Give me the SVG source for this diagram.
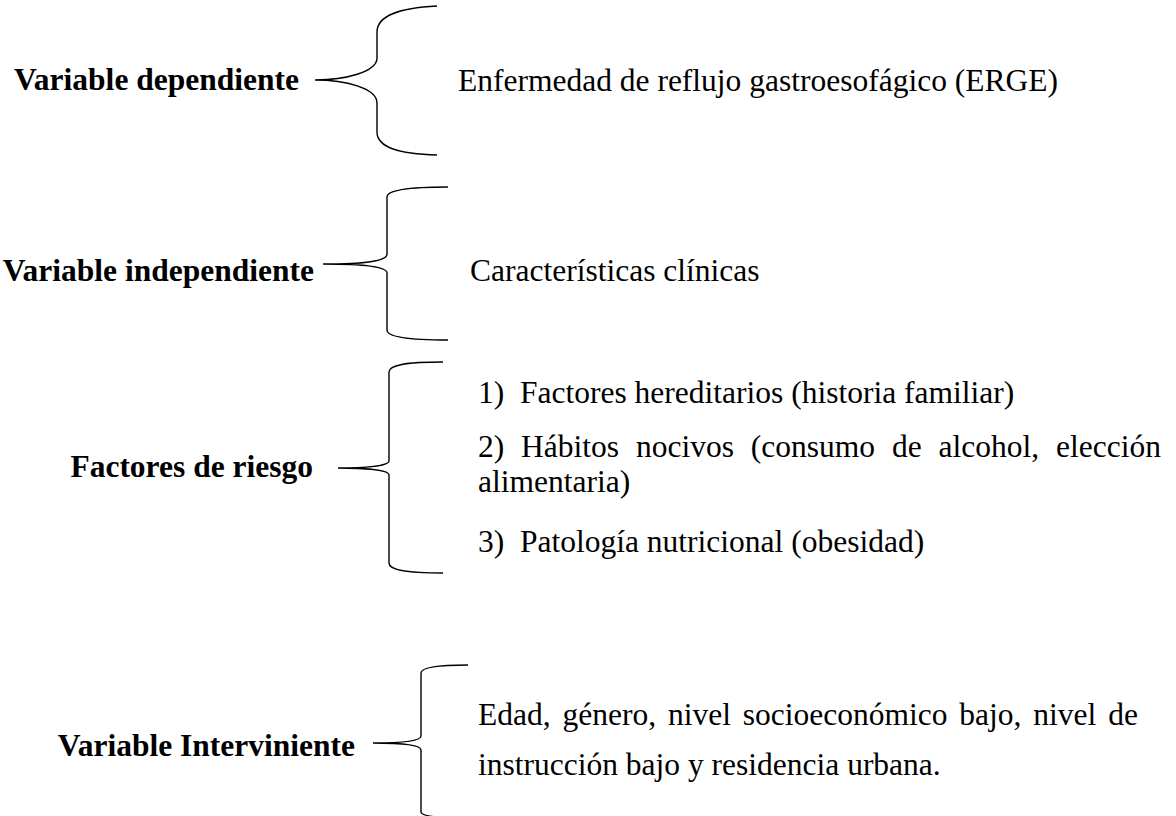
<svg xmlns="http://www.w3.org/2000/svg" width="1176" height="816" viewBox="0 0 1176 816">
<style>
.lbl{font-family:"Liberation Serif","Times New Roman",serif;font-weight:bold;font-size:31.5px;fill:#000;text-anchor:end}
.txt{font-family:"Liberation Serif","Times New Roman",serif;font-size:31.5px;fill:#000}
.br{fill:none;stroke:#000;stroke-width:1.4}
</style>
<rect width="1176" height="816" fill="#fff"/>
<g id="connectors">
<path class="br" d="M437,6 C400,8 377,15 377,32 L377,58 C377,72 345,80 315,80 C345,80 377,88 377,103 L377,132 C377,148 400,154 437,155"/>
<path class="br" d="M448,187 C410,187 387,190 387,197 L387,254 C387,262 360,264 323,264 C360,264 387,266 387,273 L387,330 C387,337 410,340 448,340"/>
<path class="br" d="M443,362 C405,362 389,365 389,372 L389,461 C389,466 365,468 338,468 C365,468 389,470 389,475 L389,563 C389,570 405,573 443,573"/>
<path class="br" d="M468,665 C435,665 421,668 421,673 L421,736 C421,741 400,743 373,743 C400,743 421,745 421,750 L421,812 C421,816 435,818 468,818"/>
</g>
<g id="n1"><text class="lbl" x="299" y="90">Variable dependiente</text><text class="txt" x="458" y="91">Enfermedad de reflujo gastroesofágico (ERGE)</text></g>
<g id="n2"><text class="lbl" x="314" y="281">Variable independiente</text><text class="txt" x="470" y="281">Características clínicas</text></g>
<g id="n3"><text class="lbl" x="313" y="477">Factores de riesgo</text>
<text class="txt" x="478" y="403" xml:space="preserve">1)  Factores hereditarios (historia familiar)</text>
<text class="txt" x="478" y="457" word-spacing="9">2) Hábitos nocivos (consumo de alcohol, elección</text>
<text class="txt" x="478" y="492">alimentaria)</text>
<text class="txt" x="478" y="552" xml:space="preserve">3)  Patología nutricional (obesidad)</text></g>
<g id="n4"><text class="lbl" x="355" y="756">Variable Interviniente</text>
<text class="txt" x="478" y="725" word-spacing="4">Edad, género, nivel socioeconómico bajo, nivel de</text>
<text class="txt" x="478" y="775">instrucción bajo y residencia urbana.</text></g>
</svg>
